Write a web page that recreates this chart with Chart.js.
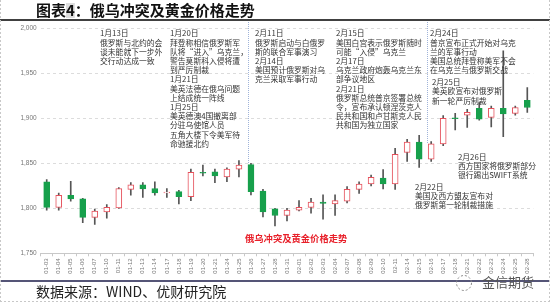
<!DOCTYPE html>
<html>
<head>
<meta charset="utf-8">
<script src="https://cdn.jsdelivr.net/npm/chart.js@4.4.1/dist/chart.umd.min.js"></script>
<style>
  html, body { margin: 0; padding: 0; background: #fff; }
  #wrap { width: 550px; height: 307px; position: relative; }
</style>
</head>
<body>
<div id="wrap"><canvas id="goldChart" width="550" height="307"></canvas></div>
<script>
// 日期
const days = ['01-03','01-04','01-05','01-06','01-07','01-10','01-11','01-12','01-13','01-14',
  '01-17','01-18','01-19','01-20','01-21','01-24','01-25','01-26','01-27','01-28',
  '01-31','02-01','02-02','02-03','02-04','02-07','02-08','02-09','02-10','02-11',
  '02-14','02-15','02-16','02-17','02-18','02-21','02-22','02-23','02-24','02-25','02-28'];

// 开高低收
const openPx  = [1829.5,1801,1814.5,1810.5,1790,1796,1800.5,1821,1826,1822,
  1817,1818.5,1813,1840,1840.5,1835,1843.5,1848.5,1819,1799.5,
  1792,1798,1801,1807,1805,1808,1821,1827,1833.5,1827,
  1862,1873.5,1854.5,1871.5,1900.5,1903.5,1911,1901,1911,1905.5,1920];
const highPx  = [1832,1817,1830,1811,1799,1804,1823,1828.5,1828.5,1829.5,
  1822,1820,1843.5,1848,1843.5,1845,1853,1850,1821,1800,
  1800,1808.5,1811,1815,1815,1824,1829.5,1837,1843,1866.5,
  1876.5,1881,1874,1903,1905.5,1910,1917.5,1913.5,1975,1913.5,1934];
const lowPx   = [1798,1798,1808,1784,1782,1789,1800,1814.5,1812,1814.5,
  1812,1805,1808.5,1836,1828.5,1829.5,1835,1815,1790.5,1780.5,
  1786,1797,1794.5,1788,1792,1806,1816.5,1825,1821.5,1821,
  1852,1845.5,1852,1869.5,1887,1890,1898,1890.5,1879.5,1903.5,1906.5];
const closePx = [1801,1814.5,1810.5,1790,1797,1801,1822,1826,1821.5,1817,
  1818,1813,1840,1839,1836,1843.5,1848,1818.5,1796,1792,
  1798,1801,1807,1805.5,1808.5,1821,1827,1834.5,1827,1860,
  1873.5,1854.5,1871.5,1900,1899.5,1906.5,1899,1911,1905,1912,1912];

const yTicks = [1750, 2000, 50]; // 最小, 最大, 间隔

// 事件注释
const notes = [
  { x: 100, y: 33.5, lines: ['1月13日','俄罗斯与北约的会','谈未能就下一步外','交行动达成一致'] },
  { x: 170, y: 33.5, lines: ['1月20日','拜登称相信俄罗斯军','队将“进入”乌克兰，','警告莫斯科入侵将遭','到严厉制裁',
      '1月21日','美英法德在俄乌问题','上结成统一阵线','1月25日','美英德澳4国撤离部','分驻乌使馆人员','五角大楼下令美军待','命驰援北约'] },
  { x: 255, y: 33.5, lines: ['2月11日','俄罗斯启动与白俄罗','斯的联合军事演习','2月14日','美国预计俄罗斯对乌','克兰采取军事行动'] },
  { x: 336, y: 33.5, lines: ['2月15日','美国白宫表示俄罗斯随时','可能“入侵”乌克兰','2月17日','乌克兰政府炮轰乌克兰东','部争议地区',
      '2月21日','俄罗斯总统普京签署总统','令，宣布承认顿涅茨克人','民共和国和卢甘斯克人民','共和国为独立国家'] },
  { x: 430, y: 33.5, lines: ['2月24日','普京宣布正式开始对乌克','兰的军事行动','美国总统拜登称美军不会','在乌克兰与俄罗斯交战'] },
  { x: 432, y: 82.3, lines: ['2月25日','美英欧宣布对俄罗斯','新一轮严厉制裁'] },
  { x: 458, y: 157, lines: ['2月26日','西方国家将俄罗斯部分','银行踢出SWIFT系统'] },
  { x: 415, y: 187, lines: ['2月22日','美国及西方盟友宣布对','俄罗斯第一轮制裁措施'] }
];

const UP = '#e5505b', DOWN = '#17a04c';
const isUp = openPx.map((o, i) => closePx[i] >= o);
const cjk = '"Noto Sans CJK SC", "Noto Sans", sans-serif';

const decor = {
  id: 'decor',
  beforeDraw(chart) {
    const c = chart.ctx;
    c.save();
    c.fillStyle = '#fff';
    c.fillRect(0, 0, chart.width, chart.height);
    c.restore();
  },
  afterDraw(chart) {
    const c = chart.ctx;
    c.save();
    // 标题
    c.font = 'bold 15px ' + cjk;
    c.textBaseline = 'middle';
    c.fillStyle = '#111';
    let tx = 36;
    const parts = ['图表', '4', '：俄乌冲突及黄金价格走势'];
    parts.forEach((p, k) => {
      const w = c.measureText(p).width;
      if (k === 1) { c.fillStyle = '#ddd'; c.fillRect(tx, 3, w, 15); c.fillStyle = '#111'; }
      c.fillText(p, tx, 10.5);
      tx += w;
    });
    c.strokeStyle = '#000';
    c.lineWidth = 1.5;
    c.beginPath(); c.moveTo(0, 20); c.lineTo(550, 20); c.stroke();

    // 竖虚线
    c.strokeStyle = '#9fb3d9';
    c.lineWidth = 1;
    c.setLineDash([1, 1]);
    [[248.5, 22, 163], [427.5, 22, 143]].forEach(([x, a, b]) => {
      c.beginPath(); c.moveTo(x, a); c.lineTo(x, b); c.stroke();
    });
    c.setLineDash([]);

    // 注释
    c.font = '7.8px ' + cjk;
    c.fillStyle = '#333';
    c.textBaseline = 'middle';
    notes.forEach(n => n.lines.forEach((s, i) => c.fillText(s, n.x, n.y + i * 9.2)));

    c.font = 'bold 9.3px ' + cjk;
    c.fillStyle = '#e8202a';
    c.fillText('俄乌冲突及黄金价格走势', 245, 238.5);

    // 底部
    c.strokeStyle = '#1c1c4a';
    c.lineWidth = 1.5;
    c.beginPath(); c.moveTo(0, 281); c.lineTo(550, 281); c.stroke();
    c.font = '14px ' + cjk;
    c.fillStyle = '#222';
    c.fillText('数据来源：WIND、优财研究院', 36, 292);

    c.strokeStyle = '#888';
    c.lineWidth = 1;
    c.setLineDash([2, 2]);
    c.beginPath(); c.arc(464, 283, 7.5, 0, Math.PI * 2); c.stroke();
    c.strokeStyle = '#c8c8c8';
    c.beginPath();
    c.moveTo(0.5, 0); c.lineTo(0.5, 301);
    c.moveTo(549.5, 0); c.lineTo(549.5, 301);
    c.moveTo(0, 301.5); c.lineTo(550, 301.5);
    c.stroke();
    c.setLineDash([]);
    c.font = '13px ' + cjk;
    c.fillStyle = '#555';
    c.fillText('金信期货', 482, 282);
    c.restore();
  }
};

new Chart(document.getElementById('goldChart'), {
  type: 'bar',
  data: {
    labels: days,
    datasets: [
      {
        label: 'wick',
        data: lowPx.map((l, i) => [l, highPx[i]]),
        backgroundColor: '#555',
        barThickness: 1,
        grouped: false,
        order: 2
      },
      {
        label: 'body',
        data: openPx.map((o, i) => [o, closePx[i]]),
        backgroundColor: isUp.map(u => u ? '#fff' : DOWN),
        borderColor: isUp.map(u => u ? UP : DOWN),
        borderWidth: 1,
        borderSkipped: false,
        barThickness: 6,
        grouped: false,
        order: 1
      }
    ]
  },
  options: {
    responsive: false,
    animation: false,
    devicePixelRatio: 1,
    layout: { padding: { left: 0.7, right: 16.7, top: 28.3, bottom: 28.7 } },
    plugins: { legend: { display: false }, tooltip: { enabled: false } },
    scales: {
      x: {
        offset: true,
        grid: { display: true, drawOnChartArea: false, drawTicks: true, tickLength: 3, color: '#c8c8c8' },
        border: { display: true, color: '#c8c8c8' },
        ticks: { autoSkip: false, minRotation: 90, maxRotation: 90, padding: 2,
                 font: { size: 6, family: 'Arial' }, color: '#777' },
        afterFit: s => { s.height = 25; }
      },
      y: {
        min: yTicks[0], max: yTicks[1],
        grid: { color: '#dcdcdc', drawTicks: false },
        border: { display: false, dash: [3, 3] },
        ticks: { stepSize: yTicks[2], padding: 4, font: { size: 6.5, family: 'Arial' }, color: '#777' },
        afterFit: s => { s.width = 40; }
      }
    }
  },
  plugins: [decor]
});
</script>
</body>
</html>
